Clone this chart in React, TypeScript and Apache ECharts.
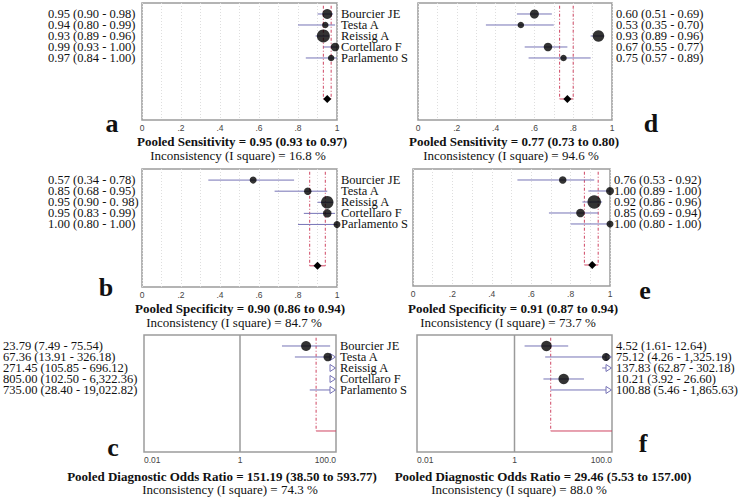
import React, { useEffect, useRef } from "react";
import * as echarts from "echarts";

// ---------------- data ----------------
const studies = ["Bourcier JE", "Testa A", "Reissig A", "Cortellaro F", "Parlamento S"];

// a: pooled sensitivity (left)
const aEst = [0.95, 0.94, 0.93, 0.99, 0.97];
const aLo = [0.9, 0.8, 0.89, 0.93, 0.84];
const aHi = [0.98, 0.99, 0.96, 1.0, 1.0];
const aLabels = ["0.95 (0.90 - 0.98)", "0.94 (0.80 - 0.99)", "0.93 (0.89 - 0.96)", "0.99 (0.93 - 1.00)", "0.97 (0.84 - 1.00)"];
const aWeights = [10, 6.5, 13, 8.5, 6.5];
const aPooled = [0.95, 0.93, 0.97];

// d: pooled sensitivity (right)
const dEst = [0.6, 0.53, 0.93, 0.67, 0.75];
const dLo = [0.51, 0.35, 0.89, 0.55, 0.57];
const dHi = [0.69, 0.7, 0.96, 0.77, 0.89];
const dLabels = ["0.60 (0.51 - 0.69)", "0.53 (0.35 - 0.70)", "0.93 (0.89 - 0.96)", "0.67 (0.55 - 0.77)", "0.75 (0.57 - 0.89)"];
const dWeights = [9, 6.5, 11.5, 8.5, 6.5];
const dPooled = [0.77, 0.73, 0.8];

// b: pooled specificity (left)
const bEst = [0.57, 0.85, 0.95, 0.95, 1.0];
const bLo = [0.34, 0.68, 0.9, 0.83, 0.8];
const bHi = [0.78, 0.95, 0.98, 0.99, 1.0];
const bLabels = ["0.57 (0.34 - 0.78)", "0.85 (0.68 - 0.95)", "0.95 (0.90 - 0. 98)", "0.95 (0.83 - 0.99)", "1.00 (0.80 - 1.00)"];
const bWeights = [7, 7.5, 12.5, 8.5, 7];
const bPooled = [0.9, 0.86, 0.94];

// e: pooled specificity (right)
const eEst = [0.76, 1.0, 0.92, 0.85, 1.0];
const eLo = [0.53, 0.89, 0.86, 0.69, 0.8];
const eHi = [0.92, 1.0, 0.96, 0.94, 1.0];
const eLabels = ["0.76 (0.53 - 0.92)", "1.00 (0.89 - 1.00)", "0.92 (0.86 - 0.96)", "0.85 (0.69 - 0.94)", "1.00 (0.80 - 1.00)"];
const eWeights = [7.5, 8, 13.5, 8.5, 7];
const ePooled = [0.91, 0.87, 0.94];

// c: diagnostic odds ratio (left)
const cEst = [23.79, 67.36, 271.45, 805.0, 735.0];
const cLo = [7.49, 13.91, 105.85, 102.5, 28.4];
const cHi = [75.54, 326.18, 696.12, 6322.36, 19022.82];
const cLabels = ["23.79 (7.49 - 75.54)", "67.36 (13.91 - 326.18)", "271.45 (105.85 - 696.12)", "805.00 (102.50 - 6,322.36)", "735.00 (28.40 - 19,022.82)"];
const cWeights = [10, 8.5, 12, 8, 7];
const cPooled = [151.19, 38.5, 593.77];

// f: diagnostic odds ratio (right)
const fEst = [4.52, 75.12, 137.83, 10.21, 100.88];
const fLo = [1.61, 4.26, 62.87, 3.92, 5.46];
const fHi = [12.64, 1325.19, 302.18, 26.6, 1865.63];
const fLabels = ["4.52 (1.61- 12.64)", "75.12 (4.26 - 1,325.19)", "137.83 (62.87 - 302.18)", "10.21 (3.92 - 26.60)", "100.88 (5.46 - 1,865.63)"];
const fWeights = [10.5, 8, 12, 10.5, 7];
const fPooled = [29.46, 5.53, 157.0];

const linearTicks = ["0", ".2", ".4", ".6", ".8", "1"];
const logTicks = ["0.01", "1", "100.0"];

// ---------------- layout / style ----------------
const SERIF = '"Liberation Serif", "Times New Roman", serif';
const SANS = '"Liberation Sans", Arial, sans-serif';
const CI_COLOR = "#7673b6";
const RED = "#cf4562";
const POOL_ROW = 8.73;
const Y_MAX = 10.64;

type Panel = {
  box: { left: number; top: number; width: number; height: number };
  est: number[]; lo: number[]; hi: number[]; weights: number[]; pooled: number[];
  leftLabels?: string[]; leftMargin?: number; rightLabels: string[];
  log: boolean;
  title: string; incon: string;
  titlePos: [number, number]; inconPos: [number, number];
  letter: string; letterPos: [number, number];
};

const panels: Panel[] = [
  {
    box: { left: 142, top: 3, width: 195, height: 117 },
    est: aEst, lo: aLo, hi: aHi, weights: aWeights, pooled: aPooled,
    leftLabels: aLabels, leftMargin: 94, rightLabels: studies, log: false,
    title: "Pooled Sensitivity = 0.95 (0.93 to 0.97)", incon: "Inconsistency (I square) = 16.8 %",
    titlePos: [242, 141], inconPos: [238, 155], letter: "a", letterPos: [112, 123],
  },
  {
    box: { left: 418, top: 3, width: 194, height: 117 },
    est: dEst, lo: dLo, hi: dHi, weights: dWeights, pooled: dPooled,
    rightLabels: dLabels, log: false,
    title: "Pooled Sensitivity = 0.77 (0.73 to 0.80)", incon: "Inconsistency (I square) = 94.6 %",
    titlePos: [514, 141], inconPos: [511, 155], letter: "d", letterPos: [651, 123],
  },
  {
    box: { left: 142, top: 169, width: 195, height: 118 },
    est: bEst, lo: bLo, hi: bHi, weights: bWeights, pooled: bPooled,
    leftLabels: bLabels, leftMargin: 94, rightLabels: studies, log: false,
    title: "Pooled Specificity = 0.90 (0.86 to 0.94)", incon: "Inconsistency (I square) = 84.7 %",
    titlePos: [240, 308], inconPos: [234, 322], letter: "b", letterPos: [106, 287],
  },
  {
    box: { left: 413, top: 169, width: 197, height: 117 },
    est: eEst, lo: eLo, hi: eHi, weights: eWeights, pooled: ePooled,
    rightLabels: eLabels, log: false,
    title: "Pooled Specificity = 0.91 (0.87 to 0.94)", incon: "Inconsistency (I square) = 73.7 %",
    titlePos: [513, 308], inconPos: [508, 322], letter: "e", letterPos: [645, 290],
  },
  {
    box: { left: 142, top: 335, width: 194, height: 117 },
    est: cEst, lo: cLo, hi: cHi, weights: cWeights, pooled: cPooled,
    leftLabels: cLabels, leftMargin: 141, rightLabels: studies, log: true,
    title: "Pooled Diagnostic Odds Ratio = 151.19 (38.50 to 593.77)", incon: "Inconsistency (I square) = 74.3 %",
    titlePos: [222, 476], inconPos: [230, 489], letter: "c", letterPos: [113, 447],
  },
  {
    box: { left: 417, top: 335, width: 195, height: 117 },
    est: fEst, lo: fLo, hi: fHi, weights: fWeights, pooled: fPooled,
    rightLabels: fLabels, log: true,
    title: "Pooled Diagnostic Odds Ratio = 29.46 (5.53 to 157.00)", incon: "Inconsistency (I square) = 88.0 %",
    titlePos: [543, 476], inconPos: [519, 489], letter: "f", letterPos: [643, 443],
  },
];

function rowFormatter(labels: string[]) {
  return (v: number) => {
    const k = Math.round(v);
    if (Math.abs(v - k) > 1e-6) return "";
    return labels[k - 1] ?? "";
  };
}

function buildOption() {
  const grids: any[] = [];
  const xAxes: any[] = [];
  const yAxes: any[] = [];
  const series: any[] = [];
  const graphic: any[] = [];

  panels.forEach((p, i) => {
    const xmin = p.log ? 0.01 : 0;
    const xmax = p.log ? 100 : 1;
    grids.push({ ...p.box, show: true, borderColor: "#9c9c9c", borderWidth: 1.5, backgroundColor: "#fff" });

    if (p.log) {
      xAxes.push({
        gridIndex: i, type: "log", logBase: 10, min: 0.01, max: 100,
        axisLine: { show: false }, axisTick: { show: false }, splitLine: { show: false },
        axisLabel: {
          fontFamily: SANS, fontSize: 8.5, color: "#444", margin: 3,
          alignMinLabel: "left", alignMaxLabel: "right",
          formatter: (v: number) => {
            const e = Math.round(Math.log10(v));
            if (e === -2) return logTicks[0];
            if (e === 0) return logTicks[1];
            if (e === 2) return logTicks[2];
            return "";
          },
        },
      });
    } else {
      xAxes.push({
        gridIndex: i, type: "value", min: 0, max: 1, interval: 0.1,
        axisLine: { show: false }, axisTick: { show: false },
        splitLine: { show: true, lineStyle: { color: "#dedede", width: 1, type: [1, 2] } },
        axisLabel: {
          fontFamily: SANS, fontSize: 8.5, color: "#444", margin: 3,
          formatter: (v: number) => {
            const n = Math.round(v * 10);
            if (n % 2 !== 0) return "";
            return linearTicks[n / 2] ?? "";
          },
        },
      });
    }

    const baseY = {
      gridIndex: i, type: "value", min: 0, max: Y_MAX, interval: 1, inverse: true,
      axisLine: { show: false }, axisTick: { show: false }, splitLine: { show: false },
    };
    const yi = yAxes.length;
    yAxes.push({
      ...baseY, position: "right",
      axisLabel: { fontFamily: SERIF, fontSize: 12.5, lineHeight: 11, color: "#111", margin: 4, formatter: rowFormatter(p.rightLabels) },
    });
    if (p.leftLabels) {
      yAxes.push({
        ...baseY, position: "left",
        axisLabel: { fontFamily: SERIF, fontSize: 12.5, lineHeight: 11, color: "#111", margin: p.leftMargin, align: "left", formatter: rowFormatter(p.leftLabels) },
      });
    }

    // null line at OR = 1
    if (p.log) {
      series.push({
        type: "custom", xAxisIndex: i, yAxisIndex: yi, silent: true, z: 1, clip: false,
        data: [[1, 0]], encode: { x: 0, y: 1 },
        renderItem: (params: any, api: any) => {
          const cs = params.coordSys;
          const x = api.coord([api.value(0), 1])[0];
          return { type: "line", shape: { x1: x, y1: cs.y, x2: x, y2: cs.y + cs.height }, style: { stroke: "#9a9a9a", lineWidth: 1.5 } };
        },
      });
    }

    // pooled estimate lines (+ diamond on the linear panels)
    const showDiamond = !p.log;
    series.push({
      type: "custom", xAxisIndex: i, yAxisIndex: yi, silent: true, z: 1, clip: false,
      data: [[p.pooled[0], p.pooled[1], p.pooled[2], POOL_ROW]],
      encode: { x: [0, 1, 2], y: 3 },
      renderItem: (params: any, api: any) => {
        const est = api.value(0), lo = api.value(1), hi = api.value(2), row = api.value(3);
        const inR = (v: number) => v >= xmin && v <= xmax;
        const clamp = (v: number) => Math.min(Math.max(v, xmin), xmax);
        const yTop = api.coord([clamp(est), 0.25])[1];
        const yRow = api.coord([clamp(est), row])[1];
        const children: any[] = [];
        [lo, hi].forEach((v) => {
          if (inR(v)) {
            const x = api.coord([v, row])[0];
            children.push({ type: "line", shape: { x1: x, y1: yTop, x2: x, y2: yRow }, style: { stroke: RED, lineWidth: 1, lineDash: [3, 2, 1, 2] } });
          }
        });
        const xl = api.coord([clamp(lo), row])[0];
        const xh = api.coord([clamp(hi), row])[0];
        children.push({ type: "line", shape: { x1: xl, y1: yRow, x2: xh, y2: yRow }, style: { stroke: RED, lineWidth: 1 } });
        if (showDiamond && inR(est)) {
          const [x, y] = api.coord([est, row]);
          children.push({ type: "polygon", shape: { points: [[x - 4, y], [x, y - 4], [x + 4, y], [x, y + 4]] }, style: { fill: "#000" } });
        }
        return { type: "group", children };
      },
    });

    // confidence intervals
    series.push({
      type: "custom", xAxisIndex: i, yAxisIndex: yi, silent: true, z: 2, clip: false,
      data: p.lo.map((l, k) => [l, p.hi[k], k + 1]),
      encode: { x: [0, 1], y: 2 },
      renderItem: (params: any, api: any) => {
        const lo = api.value(0), hi = api.value(1), row = api.value(2);
        const cs = params.coordSys;
        const right = cs.x + cs.width;
        const clamp = (v: number) => Math.min(Math.max(v, xmin), xmax);
        const pLo = api.coord([clamp(lo), row]);
        const pHi = api.coord([clamp(hi), row]);
        const arrow = hi > xmax;
        const endX = arrow ? right - 6 : pHi[0];
        const children: any[] = [];
        if (endX > pLo[0]) {
          children.push({ type: "line", shape: { x1: pLo[0], y1: pLo[1], x2: endX, y2: pLo[1] }, style: { stroke: CI_COLOR, lineWidth: 1 } });
        }
        if (arrow) {
          children.push({
            type: "polygon",
            shape: { points: [[right - 6, pLo[1] - 3.5], [right - 0.5, pLo[1]], [right - 6, pLo[1] + 3.5]] },
            style: { stroke: CI_COLOR, fill: "#fff", lineWidth: 1 },
          });
        }
        return { type: "group", children };
      },
    });

    // study point estimates
    series.push({
      type: "scatter", xAxisIndex: i, yAxisIndex: yi, silent: true, z: 3, symbol: "circle",
      data: p.est
        .map((e, k) => ({ value: [e, k + 1], symbolSize: p.weights[k] }))
        .filter((d) => d.value[0] >= xmin && d.value[0] <= xmax),
      itemStyle: { color: "#000" },
    });

    graphic.push(
      { type: "text", x: p.titlePos[0], y: p.titlePos[1], silent: true,
        style: { text: p.title, fontFamily: SERIF, fontSize: 13, fontWeight: "bold", fill: "#111", align: "center", verticalAlign: "middle" } },
      { type: "text", x: p.inconPos[0], y: p.inconPos[1], silent: true,
        style: { text: p.incon, fontFamily: SERIF, fontSize: 13, fill: "#111", align: "center", verticalAlign: "middle" } },
      { type: "text", x: p.letterPos[0], y: p.letterPos[1], silent: true,
        style: { text: p.letter, fontFamily: SERIF, fontSize: 26, fontWeight: "bold", fill: "#111", align: "center", verticalAlign: "middle" } },
    );
  });

  return {
    animation: false,
    backgroundColor: "#fff",
    grid: grids,
    xAxis: xAxes,
    yAxis: yAxes,
    series,
    graphic,
  };
}

export default function App() {
  const ref = useRef<HTMLDivElement>(null);
  useEffect(() => {
    if (!ref.current) return;
    const chart = echarts.init(ref.current, undefined, { renderer: "svg" });
    chart.setOption(buildOption() as any);
    return () => chart.dispose();
  }, []);
  return <div ref={ref} style={{ position: "fixed", left: 0, top: 0, width: 742, height: 502, background: "#fff" }} />;
}
